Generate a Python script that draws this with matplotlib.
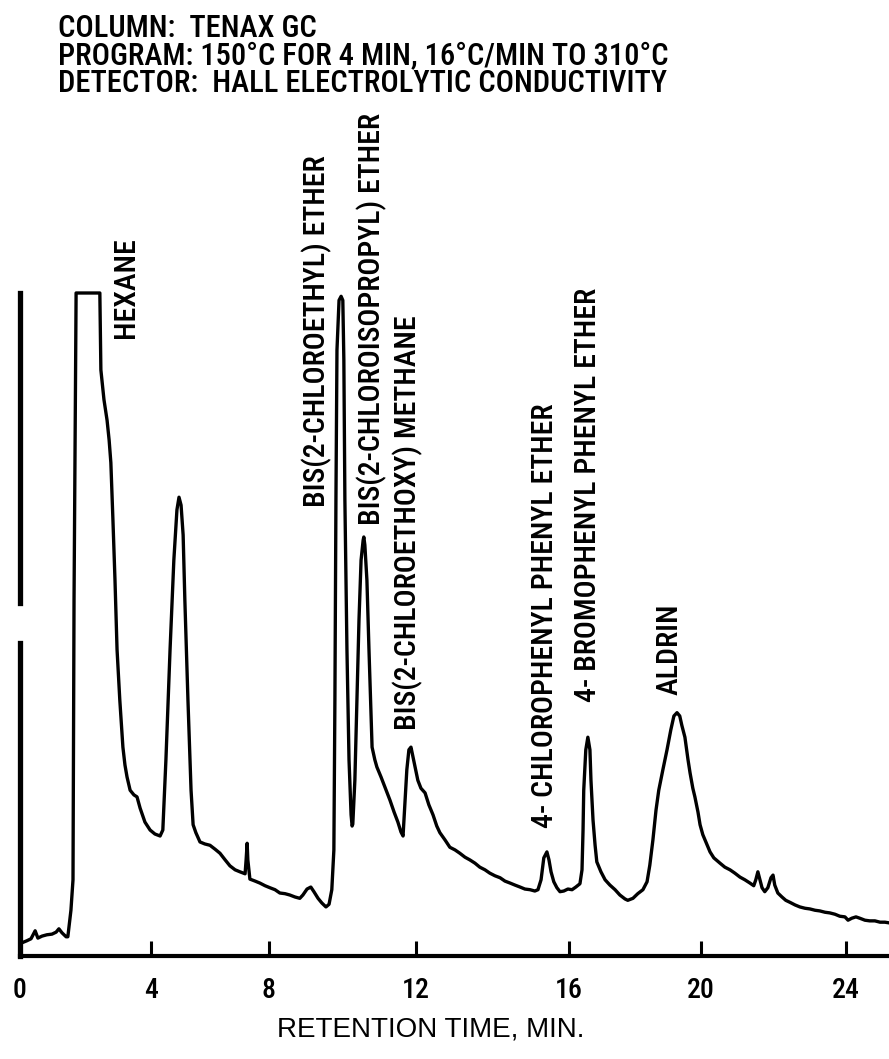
import numpy as np
import matplotlib.pyplot as plt
from matplotlib import font_manager as fm

# pick a condensed sans close to the typeset labels of the original
installed = {f.name for f in fm.fontManager.ttflist}
narrow = [n for n in ['Roboto Condensed', 'Liberation Sans Narrow', 'PT Sans Narrow', 'Archivo Narrow',
                      'Open Sans Condensed', 'IBM Plex Sans Condensed', 'Encode Sans Condensed']
          if n in installed]
plt.rcParams['font.family'] = narrow[:1] + ['DejaVu Sans']

# Chromatogram trace: retention time (min) and detector signal (% of full scale)
time_min = [0.06, 0.20, 0.32, 0.44, 0.52, 0.64, 0.78, 0.93, 1.05, 1.13, 1.22, 1.34, 1.39, 1.48, 1.54, 1.57,
            1.63, 2.32, 2.35, 2.44, 2.53, 2.59, 2.64, 2.70, 2.76, 2.82, 2.90, 2.99, 3.05, 3.11, 3.20, 3.31,
            3.40, 3.49, 3.63, 3.78, 3.92, 4.07, 4.15,
            4.24, 4.36, 4.47, 4.56, 4.62, 4.68, 4.74, 4.79, 4.88, 4.97, 5.03, 5.11, 5.23, 5.37, 5.52, 5.67,
            5.81, 5.96, 6.10, 6.25, 6.39, 6.54, 6.57, 6.60, 6.62, 6.68, 6.83, 6.97, 7.12, 7.26, 7.41, 7.55,
            7.70, 7.84, 7.99, 8.13, 8.22, 8.34, 8.45, 8.54, 8.66, 8.77, 8.89, 8.98, 9.06, 9.12, 9.15, 9.18,
            9.21, 9.27, 9.33, 9.38, 9.41, 9.44, 9.50, 9.56, 9.62, 9.65, 9.67, 9.73, 9.79, 9.85, 9.91, 9.97,
            9.99, 10.02, 10.08, 10.14, 10.23, 10.31, 10.37, 10.49, 10.60, 10.75, 10.87, 10.98, 11.07, 11.13,
            11.19, 11.24, 11.30, 11.36, 11.42, 11.48, 11.56, 11.65, 11.77, 11.88, 12.00, 12.11, 12.20, 12.35,
            12.49, 12.64, 12.78, 12.93, 13.07, 13.22, 13.36, 13.51, 13.65, 13.80, 13.95, 14.09, 14.24, 14.38,
            14.53, 14.67, 14.82, 14.96, 15.05, 15.14, 15.22, 15.31, 15.37, 15.43, 15.51, 15.60, 15.69, 15.80,
            15.92, 16.04, 16.15, 16.27, 16.33, 16.36, 16.38, 16.44, 16.50, 16.56, 16.59, 16.65, 16.71, 16.76,
            16.88, 17.00, 17.14, 17.29, 17.43, 17.58, 17.66, 17.81, 17.95, 18.10, 18.22, 18.30, 18.39, 18.48,
            18.56, 18.68, 18.80, 18.91, 19.00, 19.09, 19.17, 19.23, 19.32, 19.41, 19.47, 19.55, 19.61, 19.70,
            19.76, 19.84, 19.93, 20.05, 20.16, 20.34, 20.48, 20.63, 20.77, 20.92, 21.06, 21.21, 21.32, 21.38,
            21.44, 21.50, 21.56, 21.64, 21.73, 21.82, 21.88, 21.93, 22.02, 22.14, 22.25, 22.37, 22.52, 22.66,
            22.81, 22.95, 23.10, 23.24, 23.39, 23.53, 23.68, 23.82, 23.97, 24.06, 24.17, 24.29, 24.40, 24.55,
            24.69, 24.84, 24.99, 25.13, 25.25]
signal = [2.0, 2.3, 2.6, 3.8, 2.7, 3.0, 3.2, 3.3, 3.6, 4.1, 3.5, 2.9, 2.9, 6.9, 11.5, 53.7,
          100.0, 100.0, 88.4, 83.9, 80.8, 77.8, 74.4, 65.8, 56.7, 46.2, 38.6, 31.5, 28.8, 27.0, 25.0, 24.3,
          24.0, 22.3, 20.2, 19.0, 18.4, 18.1, 19.0,
          29.6, 46.2, 59.7, 67.3, 69.2, 68.0, 63.5, 53.7, 38.6, 25.0, 19.8, 18.6, 17.2, 16.9, 16.7, 16.1,
          15.5, 14.5, 13.6, 13.0, 12.7, 12.4, 14.5, 17.0, 14.5, 11.6, 11.3, 11.0, 10.6, 10.3, 10.0, 9.5,
          9.4, 9.2, 8.9, 8.7, 9.2, 10.1, 10.4, 9.7, 8.7, 8.0, 7.4, 7.8, 10.0, 16.0, 38.6, 68.8,
          91.4, 98.9, 99.5, 98.9, 89.9, 68.8, 46.2, 29.6, 21.3, 19.6, 19.9, 26.5, 38.6, 50.7, 59.7, 62.7,
          63.2, 62.0, 56.7, 46.2, 31.5, 29.6, 28.5, 27.0, 25.5, 23.5, 21.7, 20.2, 18.7, 18.1,
          23.5, 28.1, 31.1, 31.5, 30.0, 28.5, 26.5, 25.3, 24.6, 22.8, 21.3, 19.6, 18.6, 17.5,
          16.4, 16.0, 15.5, 14.9, 14.5, 14.0, 13.4, 13.0, 12.5, 12.1, 11.8, 11.3, 11.0, 10.7,
          10.4, 10.1, 10.0, 9.8, 10.0, 11.5, 14.8, 15.7, 14.5, 12.7, 11.2, 10.3, 9.7, 9.8,
          10.1, 10.0, 10.4, 10.9, 13.0, 19.0, 25.0, 31.1, 33.0, 31.1, 26.5, 20.5, 16.7, 14.2,
          12.7, 11.5, 10.7, 10.0, 9.2, 8.6, 8.4, 8.7, 9.4, 10.0, 11.2, 13.7, 17.5, 22.0,
          25.0, 28.1, 31.1, 34.1, 36.2, 36.7, 36.2, 34.8, 33.0, 29.6, 27.6, 25.3, 24.0, 21.7,
          19.8, 18.3, 17.2, 15.7, 14.8, 14.0, 13.4, 13.0, 12.5, 11.9, 11.5, 11.0, 10.6, 11.5,
          12.7, 11.5, 10.3, 9.7, 10.3, 11.8, 12.2, 10.7, 9.5, 8.9, 8.4, 8.1, 7.7, 7.4,
          7.2, 7.1, 6.9, 6.8, 6.6, 6.5, 6.3, 6.0, 5.9, 5.4, 5.7, 5.9, 5.7, 5.4,
          5.3, 5.3, 5.1, 5.1, 5.0]

# Axis ticks as printed on the original (spacing on the drawing is uneven)
tick_pos = [0, 3.81, 7.23, 11.50, 15.95, 19.78, 24.0]
tick_labels = ['0', '4', '8', '12', '16', '20', '24']

peak_names = ['HEXANE', 'BIS(2-CHLOROETHYL) ETHER', 'BIS(2-CHLOROISOPROPYL) ETHER',
              'BIS(2-CHLOROETHOXY) METHANE', '4- CHLOROPHENYL PHENYL ETHER',
              '4- BROMOPHENYL PHENYL ETHER', 'ALDRIN']
# where each rotated label sits (time, bottom of label in signal units)
label_pos = [(3.08, 93.2), (8.63, 67.7), (10.23, 65.0), (11.27, 34.1),
             (15.25, 19.3), (16.50, 38.3), (18.88, 39.4)]

header = ['COLUMN:  TENAX GC',
          'PROGRAM: 150\u00b0C FOR 4 MIN, 16\u00b0C/MIN TO 310\u00b0C',
          'DETECTOR:  HALL ELECTROLYTIC CONDUCTIVITY']

fig = plt.figure(figsize=(8.89, 10.59), dpi=100)
ax = fig.add_axes([20/889, 103/1059, 869/889, 663/1059])

ax.plot(time_min, signal, color='black', lw=2.4, solid_joinstyle='round', clip_on=False)
ax.set_xlim(0, 25.25)
ax.set_ylim(0, 100)

# left recorder edge, broken in two like on the chart paper
ax.spines['left'].set_visible(False)
ax.axvline(0, ymin=0, ymax=(956-643)/663, color='black', lw=3.8, clip_on=False)
ax.axvline(0, ymin=(956-603)/663, ymax=1, color='black', lw=3.8, clip_on=False)
for s in ['top', 'right']:
    ax.spines[s].set_visible(False)
ax.spines['bottom'].set_linewidth(3)

ax.set_yticks([])
ax.set_xticks(tick_pos)
ax.set_xticklabels(tick_labels, fontsize=20, fontweight='medium')
ax.tick_params(axis='x', direction='in', length=11, width=2.2, pad=15)

ax.set_xlabel('RETENTION TIME, MIN.', fontsize=20, family=['Liberation Sans', 'DejaVu Sans'])
ax.xaxis.set_label_coords(0.473, -0.1116)
ax.xaxis.label.set_va('center')

for name, (tx, ty) in zip(peak_names, label_pos):
    ax.text(tx, ty, name, rotation=90, ha='center', va='bottom', fontsize=21.5,
            fontweight='medium', clip_on=False)

for i, line in enumerate(header):
    fig.text(58/889, 1 - (37 + 27.5*i)/1059, line, fontsize=22, fontweight='medium',
             va='baseline', ha='left')

fig.savefig('out.png', dpi=100, facecolor='white')
